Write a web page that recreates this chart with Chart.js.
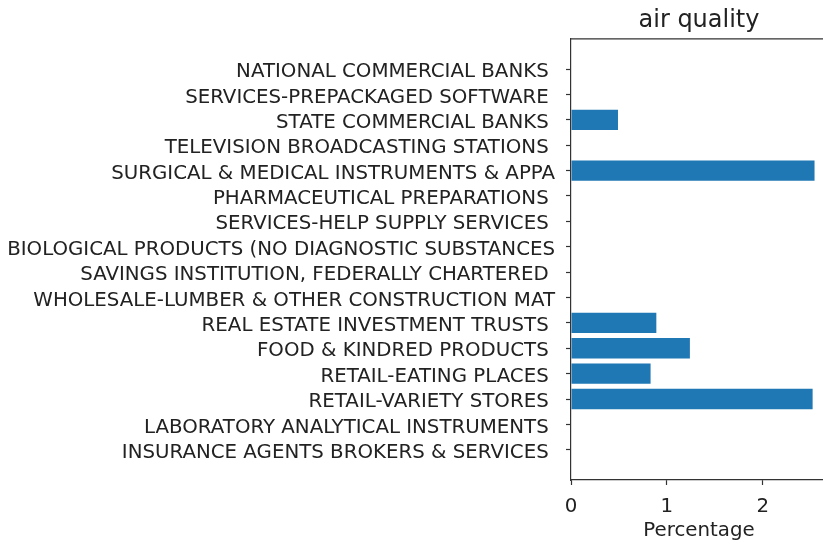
<!DOCTYPE html>
<html>
<head>
<meta charset="utf-8">
<script src="https://cdn.jsdelivr.net/npm/chart.js@4"></script>
<style>
  html, body { margin: 0; padding: 0; background: #fff; overflow: hidden; }
  #wrap { width: 860px; height: 544px; }
</style>
</head>
<body>
<div id="wrap"><canvas id="chart" width="860" height="544"></canvas></div>
<script>
// categories from top to bottom
var categories = [
  'NATIONAL COMMERCIAL BANKS ',
  'SERVICES-PREPACKAGED SOFTWARE ',
  'STATE COMMERCIAL BANKS ',
  'TELEVISION BROADCASTING STATIONS ',
  'SURGICAL & MEDICAL INSTRUMENTS & APPA',
  'PHARMACEUTICAL PREPARATIONS ',
  'SERVICES-HELP SUPPLY SERVICES ',
  'BIOLOGICAL PRODUCTS (NO DIAGNOSTIC SUBSTANCES',
  'SAVINGS INSTITUTION, FEDERALLY CHARTERED ',
  'WHOLESALE-LUMBER & OTHER CONSTRUCTION MAT',
  'REAL ESTATE INVESTMENT TRUSTS ',
  'FOOD & KINDRED PRODUCTS ',
  'RETAIL-EATING PLACES ',
  'RETAIL-VARIETY STORES ',
  'LABORATORY ANALYTICAL INSTRUMENTS ',
  'INSURANCE AGENTS BROKERS & SERVICES '
];
var percentages = [0, 0, 0.49, 0, 2.54, 0, 0, 0, 0, 0, 0.89, 1.24, 0.83, 2.52, 0, 0];
var xTicks = [0, 1, 2];

var textColor = '#222222';
var lineColor = '#333333';
var FONT = 'DejaVu Sans, sans-serif';

var points = categories.map(function(c, i) { return { x: percentages[i], y: i }; });

// top + right spine (right one ends up just outside the window)
var spines = {
  id: 'spines',
  afterDraw: function(chart) {
    var a = chart.chartArea, ctx = chart.ctx;
    ctx.save();
    ctx.strokeStyle = lineColor;
    ctx.lineWidth = 1.2;
    ctx.beginPath();
    ctx.moveTo(a.left, a.top);
    ctx.lineTo(a.right, a.top);
    ctx.lineTo(a.right, a.bottom);
    ctx.stroke();
    ctx.restore();
  }
};

new Chart(document.getElementById('chart'), {
  type: 'bar',
  data: {
    datasets: [{
      data: points,
      backgroundColor: '#1f77b4',
      borderWidth: 0,
      barPercentage: 0.8,
      categoryPercentage: 1.0
    }]
  },
  plugins: [spines],
  options: {
    indexAxis: 'y',
    responsive: false,
    animation: false,
    layout: { padding: { top: 6, right: 33, bottom: 0, left: 0 } },
    plugins: {
      legend: { display: false },
      tooltip: { enabled: false },
      title: {
        display: true,
        text: 'air quality',
        fullSize: false,
        color: textColor,
        font: { family: FONT, size: 24, weight: 'normal' },
        padding: { top: 0, bottom: 4 }
      }
    },
    scales: {
      y: {
        type: 'linear',
        reverse: true,
        offset: false,
        min: -1.19,
        max: 16.19,
        afterBuildTicks: function(scale) {
          scale.ticks = categories.map(function(c, i) { return { value: i }; });
        },
        afterFit: function(scale) { scale.width = 571; },
        grid: { offset: false, drawOnChartArea: false, drawTicks: true, tickLength: 5, color: lineColor, tickWidth: 1.2 },
        border: { display: true, color: lineColor, width: 1.2 },
        ticks: {
          autoSkip: false,
          padding: 11,
          labelOffset: 3,
          color: textColor,
          font: { family: FONT, size: 19.8 },
          callback: function(v) { return categories[v]; }
        }
      },
      x: {
        type: 'linear',
        min: 0,
        max: 2.67,
        afterBuildTicks: function(scale) {
          scale.ticks = xTicks.map(function(v) { return { value: v }; });
        },
        afterFit: function(scale) { scale.height = 64; },
        grid: { drawOnChartArea: false, drawTicks: true, tickLength: 5, color: lineColor, tickWidth: 1.2 },
        border: { display: true, color: lineColor, width: 1.2 },
        ticks: {
          padding: 10,
          color: textColor,
          font: { family: FONT, size: 19.8 }
        },
        title: {
          display: true,
          text: 'Percentage',
          color: textColor,
          font: { family: FONT, size: 19.8 },
          padding: { top: 2, bottom: 1 }
        }
      }
    }
  }
});
</script>
</body>
</html>
